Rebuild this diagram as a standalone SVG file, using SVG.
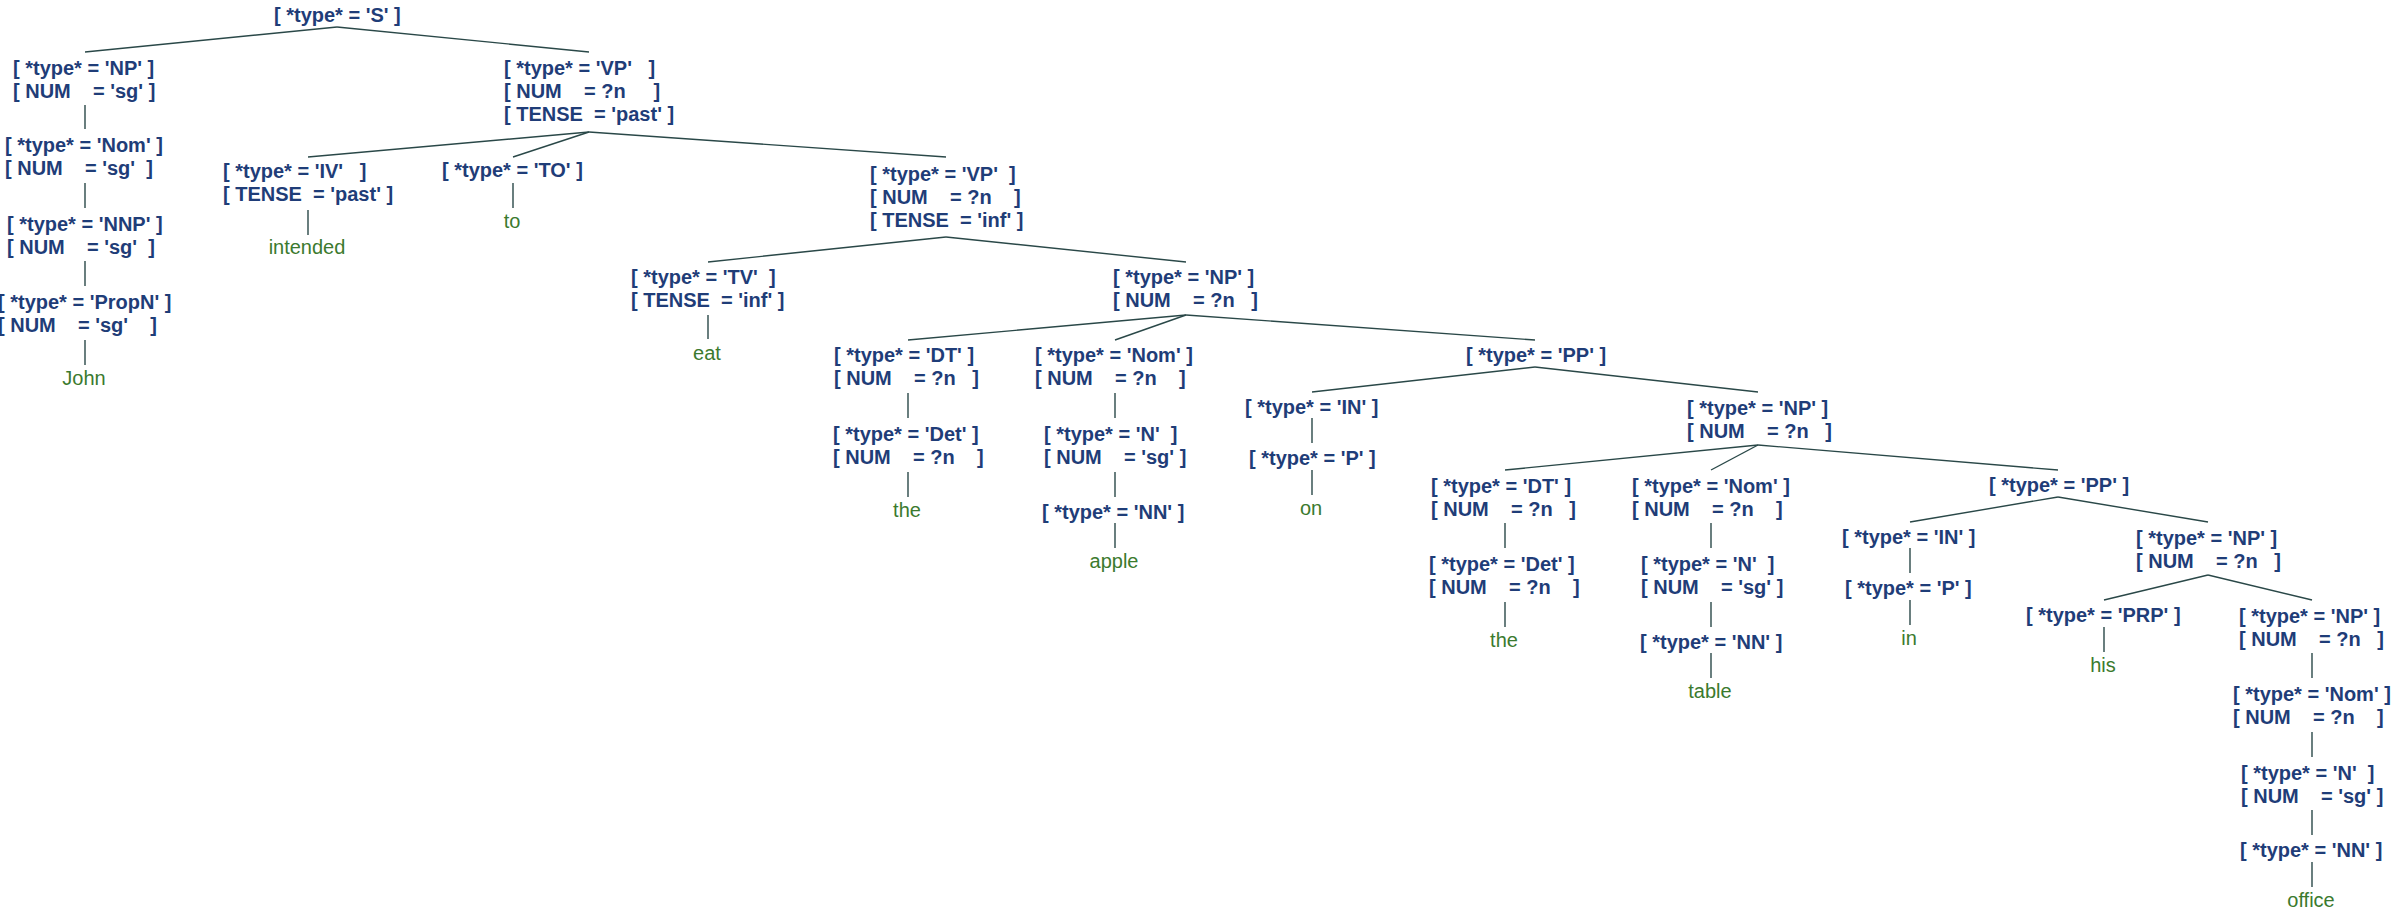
<svg xmlns="http://www.w3.org/2000/svg" width="2393" height="915" viewBox="0 0 2393 915">
<style>
.n{font-family:"Liberation Sans",Arial,sans-serif;font-weight:bold;font-size:20px;fill:#1f3d78;white-space:pre}
.l{font-family:"Liberation Sans",Arial,sans-serif;font-size:20px;fill:#3b7a2e;text-anchor:middle}
#edges line{stroke:#2a4848;stroke-width:1.4}
</style>
<rect width="2393" height="915" fill="#ffffff"/>
<g id="edges">
<line x1="337" y1="27" x2="85" y2="52"/><line x1="337" y1="27" x2="589" y2="52"/>
<line x1="85" y1="105" x2="85" y2="129"/><line x1="85" y1="183" x2="85" y2="208"/><line x1="85" y1="261" x2="85" y2="286"/><line x1="85" y1="340" x2="85" y2="365"/>
<line x1="589" y1="132" x2="308" y2="157"/><line x1="589" y1="132" x2="513" y2="157"/><line x1="589" y1="132" x2="946" y2="157"/>
<line x1="308" y1="210" x2="308" y2="235"/><line x1="513" y1="183" x2="513" y2="208"/>
<line x1="946" y1="237" x2="708" y2="262"/><line x1="946" y1="237" x2="1186" y2="262"/>
<line x1="708" y1="315" x2="708" y2="339"/>
<line x1="1186" y1="315" x2="908" y2="340"/><line x1="1186" y1="315" x2="1115" y2="340"/><line x1="1186" y1="315" x2="1535" y2="340"/>
<line x1="908" y1="393" x2="908" y2="418"/><line x1="908" y1="472" x2="908" y2="497"/>
<line x1="1115" y1="393" x2="1115" y2="418"/><line x1="1115" y1="472" x2="1115" y2="497"/><line x1="1115" y1="523" x2="1115" y2="548"/>
<line x1="1535" y1="367" x2="1312" y2="392"/><line x1="1535" y1="367" x2="1758" y2="392"/>
<line x1="1312" y1="418" x2="1312" y2="443"/><line x1="1312" y1="470" x2="1312" y2="495"/>
<line x1="1758" y1="445" x2="1505" y2="470"/><line x1="1758" y1="445" x2="1711" y2="470"/><line x1="1758" y1="445" x2="2058" y2="470"/>
<line x1="1505" y1="523" x2="1505" y2="548"/><line x1="1505" y1="602" x2="1505" y2="627"/>
<line x1="1711" y1="523" x2="1711" y2="548"/><line x1="1711" y1="602" x2="1711" y2="627"/><line x1="1711" y1="653" x2="1711" y2="678"/>
<line x1="2058" y1="497" x2="1910" y2="522"/><line x1="2058" y1="497" x2="2208" y2="522"/>
<line x1="1910" y1="548" x2="1910" y2="573"/><line x1="1910" y1="600" x2="1910" y2="625"/>
<line x1="2208" y1="575" x2="2104" y2="600"/><line x1="2208" y1="575" x2="2312" y2="600"/>
<line x1="2104" y1="627" x2="2104" y2="652"/>
<line x1="2312" y1="653" x2="2312" y2="678"/><line x1="2312" y1="732" x2="2312" y2="757"/><line x1="2312" y1="810" x2="2312" y2="835"/><line x1="2312" y1="862" x2="2312" y2="887"/>
</g>
<g id="S"><text class="n" xml:space="preserve" x="274" y="22">[ *type* = 'S' ]</text></g>
<g id="NP1"><text class="n" xml:space="preserve" x="13" y="75">[ *type* = 'NP' ]</text><text class="n" xml:space="preserve" x="13" y="98">[ NUM    = 'sg' ]</text></g>
<g id="Nom1"><text class="n" xml:space="preserve" x="5" y="152">[ *type* = 'Nom' ]</text><text class="n" xml:space="preserve" x="5" y="175">[ NUM    = 'sg'  ]</text></g>
<g id="NNP1"><text class="n" xml:space="preserve" x="7" y="231">[ *type* = 'NNP' ]</text><text class="n" xml:space="preserve" x="7" y="254">[ NUM    = 'sg'  ]</text></g>
<g id="PropN1"><text class="n" xml:space="preserve" x="-2" y="309">[ *type* = 'PropN' ]</text><text class="n" xml:space="preserve" x="-2" y="332">[ NUM    = 'sg'    ]</text></g>
<g id="leaf-John"><text class="l" x="84" y="385">John</text></g>
<g id="VP1"><text class="n" xml:space="preserve" x="504" y="75">[ *type* = 'VP'   ]</text><text class="n" xml:space="preserve" x="504" y="98">[ NUM    = ?n     ]</text><text class="n" xml:space="preserve" x="504" y="121">[ TENSE  = 'past' ]</text></g>
<g id="IV"><text class="n" xml:space="preserve" x="223" y="178">[ *type* = 'IV'   ]</text><text class="n" xml:space="preserve" x="223" y="201">[ TENSE  = 'past' ]</text></g>
<g id="leaf-intended"><text class="l" x="307" y="254">intended</text></g>
<g id="TO"><text class="n" xml:space="preserve" x="442" y="177">[ *type* = 'TO' ]</text></g>
<g id="leaf-to"><text class="l" x="512" y="228">to</text></g>
<g id="VP2"><text class="n" xml:space="preserve" x="870" y="181">[ *type* = 'VP'  ]</text><text class="n" xml:space="preserve" x="870" y="204">[ NUM    = ?n    ]</text><text class="n" xml:space="preserve" x="870" y="227">[ TENSE  = 'inf' ]</text></g>
<g id="TV"><text class="n" xml:space="preserve" x="631" y="284">[ *type* = 'TV'  ]</text><text class="n" xml:space="preserve" x="631" y="307">[ TENSE  = 'inf' ]</text></g>
<g id="leaf-eat"><text class="l" x="707" y="360">eat</text></g>
<g id="NP2"><text class="n" xml:space="preserve" x="1113" y="284">[ *type* = 'NP' ]</text><text class="n" xml:space="preserve" x="1113" y="307">[ NUM    = ?n   ]</text></g>
<g id="DT1"><text class="n" xml:space="preserve" x="834" y="362">[ *type* = 'DT' ]</text><text class="n" xml:space="preserve" x="834" y="385">[ NUM    = ?n   ]</text></g>
<g id="Det1"><text class="n" xml:space="preserve" x="833" y="441">[ *type* = 'Det' ]</text><text class="n" xml:space="preserve" x="833" y="464">[ NUM    = ?n    ]</text></g>
<g id="leaf-the1"><text class="l" x="907" y="517">the</text></g>
<g id="Nom2"><text class="n" xml:space="preserve" x="1035" y="362">[ *type* = 'Nom' ]</text><text class="n" xml:space="preserve" x="1035" y="385">[ NUM    = ?n    ]</text></g>
<g id="N1"><text class="n" xml:space="preserve" x="1044" y="441">[ *type* = 'N'  ]</text><text class="n" xml:space="preserve" x="1044" y="464">[ NUM    = 'sg' ]</text></g>
<g id="NN1"><text class="n" xml:space="preserve" x="1042" y="519">[ *type* = 'NN' ]</text></g>
<g id="leaf-apple"><text class="l" x="1114" y="568">apple</text></g>
<g id="PP1"><text class="n" xml:space="preserve" x="1466" y="362">[ *type* = 'PP' ]</text></g>
<g id="IN1"><text class="n" xml:space="preserve" x="1245" y="414">[ *type* = 'IN' ]</text></g>
<g id="P1"><text class="n" xml:space="preserve" x="1249" y="465">[ *type* = 'P' ]</text></g>
<g id="leaf-on"><text class="l" x="1311" y="515">on</text></g>
<g id="NP3"><text class="n" xml:space="preserve" x="1687" y="415">[ *type* = 'NP' ]</text><text class="n" xml:space="preserve" x="1687" y="438">[ NUM    = ?n   ]</text></g>
<g id="DT2"><text class="n" xml:space="preserve" x="1431" y="493">[ *type* = 'DT' ]</text><text class="n" xml:space="preserve" x="1431" y="516">[ NUM    = ?n   ]</text></g>
<g id="Det2"><text class="n" xml:space="preserve" x="1429" y="571">[ *type* = 'Det' ]</text><text class="n" xml:space="preserve" x="1429" y="594">[ NUM    = ?n    ]</text></g>
<g id="leaf-the2"><text class="l" x="1504" y="647">the</text></g>
<g id="Nom3"><text class="n" xml:space="preserve" x="1632" y="493">[ *type* = 'Nom' ]</text><text class="n" xml:space="preserve" x="1632" y="516">[ NUM    = ?n    ]</text></g>
<g id="N2"><text class="n" xml:space="preserve" x="1641" y="571">[ *type* = 'N'  ]</text><text class="n" xml:space="preserve" x="1641" y="594">[ NUM    = 'sg' ]</text></g>
<g id="NN2"><text class="n" xml:space="preserve" x="1640" y="649">[ *type* = 'NN' ]</text></g>
<g id="leaf-table"><text class="l" x="1710" y="698">table</text></g>
<g id="PP2"><text class="n" xml:space="preserve" x="1989" y="492">[ *type* = 'PP' ]</text></g>
<g id="IN2"><text class="n" xml:space="preserve" x="1842" y="544">[ *type* = 'IN' ]</text></g>
<g id="P2"><text class="n" xml:space="preserve" x="1845" y="595">[ *type* = 'P' ]</text></g>
<g id="leaf-in"><text class="l" x="1909" y="645">in</text></g>
<g id="NP4"><text class="n" xml:space="preserve" x="2136" y="545">[ *type* = 'NP' ]</text><text class="n" xml:space="preserve" x="2136" y="568">[ NUM    = ?n   ]</text></g>
<g id="PRP"><text class="n" xml:space="preserve" x="2026" y="622">[ *type* = 'PRP' ]</text></g>
<g id="leaf-his"><text class="l" x="2103" y="672">his</text></g>
<g id="NP5"><text class="n" xml:space="preserve" x="2239" y="623">[ *type* = 'NP' ]</text><text class="n" xml:space="preserve" x="2239" y="646">[ NUM    = ?n   ]</text></g>
<g id="Nom4"><text class="n" xml:space="preserve" x="2233" y="701">[ *type* = 'Nom' ]</text><text class="n" xml:space="preserve" x="2233" y="724">[ NUM    = ?n    ]</text></g>
<g id="N3"><text class="n" xml:space="preserve" x="2241" y="780">[ *type* = 'N'  ]</text><text class="n" xml:space="preserve" x="2241" y="803">[ NUM    = 'sg' ]</text></g>
<g id="NN3"><text class="n" xml:space="preserve" x="2240" y="857">[ *type* = 'NN' ]</text></g>
<g id="leaf-office"><text class="l" x="2311" y="907">office</text></g>
</svg>
